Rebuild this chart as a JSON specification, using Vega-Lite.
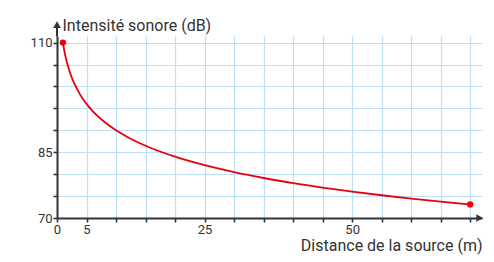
{
  "$schema": "https://vega.github.io/schema/vega-lite/v6.json",
  "width": 425,
  "height": 182,
  "autosize": {"type": "none"},
  "padding": {"left": 57, "top": 36, "right": 12, "bottom": 44},
  "background": "white",
  "config": {
    "view": {"stroke": null},
    "font": "Roboto",
    "axis": {
      "domainColor": "#333333",
      "domainWidth": 2,
      "tickColor": "#333333",
      "tickWidth": 1.6,
      "tickSize": 4,
      "gridColor": "#bcdffa",
      "gridWidth": 1.2,
      "labelFont": "Roboto",
      "labelFontSize": 13,
      "labelColor": "#333333",
      "titleFont": "Roboto",
      "titleFontSize": 16,
      "titleFontWeight": "normal",
      "titleColor": "#333333"
    }
  },
  "data": {
    "values": [
      {"d": 1, "L": 110},
      {"d": 1.2, "L": 108.42},
      {"d": 1.5, "L": 106.48},
      {"d": 2, "L": 103.98},
      {"d": 2.5, "L": 102.04},
      {"d": 3, "L": 100.46},
      {"d": 4, "L": 97.96},
      {"d": 5, "L": 96.02},
      {"d": 6, "L": 94.44},
      {"d": 8, "L": 91.94},
      {"d": 10, "L": 90},
      {"d": 12, "L": 88.42},
      {"d": 15, "L": 86.48},
      {"d": 20, "L": 83.98},
      {"d": 25, "L": 82.04},
      {"d": 30, "L": 80.46},
      {"d": 35, "L": 79.12},
      {"d": 40, "L": 77.96},
      {"d": 45, "L": 76.94},
      {"d": 50, "L": 76.02},
      {"d": 55, "L": 75.19},
      {"d": 60, "L": 74.44},
      {"d": 65, "L": 73.74},
      {"d": 70, "L": 73.1}
    ]
  },
  "encoding": {
    "x": {
      "field": "d", "type": "quantitative",
      "scale": {"domain": [0, 72], "nice": false, "zero": false},
      "axis": {
        "values": [0, 5, 10, 15, 20, 25, 30, 35, 40, 45, 50, 55, 60, 65, 70],
        "labelExpr": "indexof([0,5,25,50], datum.value) >= 0 ? datum.label : ''",
        "title": "Distance de la source (m)",
        "titleAlign": "right",
        "titleAnchor": "end",
        "titleX": 425,
        "titleY": 27,
        "titleBaseline": "middle",
        "labelPadding": 1,
        "labelFlush": false,
        "labelOverlap": false
      }
    },
    "y": {
      "field": "L", "type": "quantitative",
      "scale": {"domain": [70, 111.5], "nice": false, "zero": false},
      "axis": {
        "values": [70, 75, 80, 85, 90, 95, 100, 105, 110],
        "labelExpr": "indexof([70,85,110], datum.value) >= 0 ? datum.label : ''",
        "title": "Intensité sonore (dB)",
        "titleAngle": 0,
        "titleAlign": "left",
        "titleBaseline": "middle",
        "titleX": 5,
        "titleY": -11,
        "labelPadding": 1,
        "labelFlush": false,
        "labelOverlap": false
      }
    }
  },
  "layer": [
    {
      "mark": {"type": "line", "color": "#e8000e", "strokeWidth": 1.8, "interpolate": "monotone", "clip": false}
    },
    {
      "transform": [{"filter": "datum.d == 1 || datum.d == 70"}],
      "mark": {"type": "point", "filled": true, "color": "#e8000e", "size": 40, "opacity": 1, "clip": false}
    },
    {
      "data": {"values": [{"d": 0, "L": 111.4, "L2": 114}]},
      "mark": {"type": "rule", "color": "#333333", "strokeWidth": 2, "clip": false},
      "encoding": {
        "y2": {"field": "L2"}
      }
    },
    {
      "data": {"values": [{"d": 0, "L": 114.1}]},
      "mark": {"type": "point", "shape": "triangle-up", "filled": true, "color": "#333333", "size": 60, "opacity": 1, "clip": false}
    },
    {
      "data": {"values": [{"d": 71.6, "L": 70}]},
      "mark": {"type": "point", "shape": "triangle-right", "filled": true, "color": "#333333", "size": 60, "opacity": 1, "clip": false}
    }
  ]
}
